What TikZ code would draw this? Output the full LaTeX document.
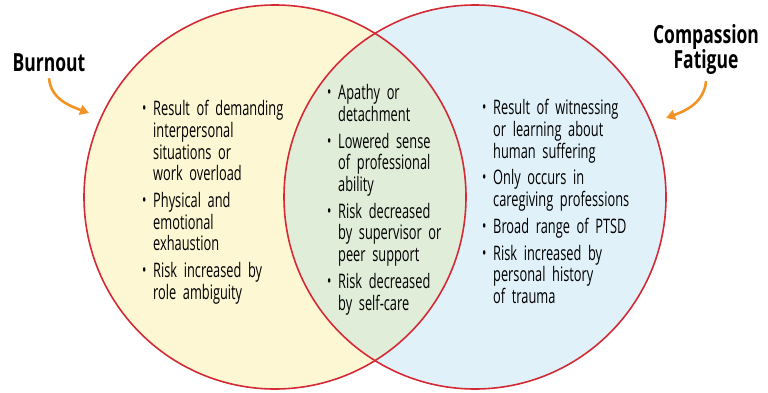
\documentclass[tikz,border=0pt]{standalone}
\usepackage{fontspec}
\setmainfont{Open Sans}[FakeStretch=0.64]
\newfontfamily\labelfont{Open Sans}[FakeStretch=0.7]
\usetikzlibrary{shapes.geometric, arrows.meta, positioning}

\definecolor{setred}{HTML}{D42A35}
\definecolor{burnfill}{HTML}{FEF7D4}
\definecolor{fatfill}{HTML}{E0F1FA}
\definecolor{lensfill}{HTML}{DFEDD9}
\definecolor{pointer}{HTML}{F39325}

% one bullet point, lines split with \\
\newcommand\bpoint[1]{\par\noindent\hbox to 11pt{\raisebox{1pt}{\fontsize{18}{18}\selectfont\textbullet}\hfil}%
  \begin{tabular}[t]{@{}l@{}}#1\end{tabular}}

\begin{document}
\begin{tikzpicture}[
  x=1pt, y=1pt,
  circ/.style={
    draw=setred,
    line width=1.6pt,
    ellipse,
    minimum width=382pt,
    minimum height=384pt
  },
  lbl/.style={
    font=\labelfont\fontsize{25}{25}\selectfont\bfseries,
    align=center,
    inner sep=0pt
  },
  txt/.style={
    font=\fontsize{20}{21.6}\selectfont\setlength\parskip{4pt},
    inner sep=0pt,
    anchor=north west
  },
  arrow/.style={
    -{Triangle[length=9pt,width=10pt]},
    draw=pointer,
    line width=2.6pt
  }
]
\useasboundingbox (0,0) rectangle (768,392);

% Fills
\fill[burnfill] (275,195) ellipse[x radius=191, y radius=192];
\fill[fatfill] (475,195) ellipse[x radius=191, y radius=192];
\begin{scope}
  \clip (275,195) ellipse[x radius=191, y radius=192];
  \fill[lensfill] (475,195) ellipse[x radius=191, y radius=192];
\end{scope}

% Sets
\node[circ] (burnset) at (275,195) {};
\node[circ] (fatset) at (475,195) {};

% Labels
\node[lbl] (burnout) at (49,329) {Burnout};
\node[lbl] (fatigue) at (706,342) {Compassion\\Fatigue};

% Points
\node[txt, text width=150pt] (burnpts) at (142,302) {%
  \bpoint{Result of demanding\\interpersonal\\situations or\\work overload}
  \bpoint{Physical and\\emotional\\exhaustion}
  \bpoint{Risk increased by\\role ambiguity}};
\node[txt, text width=120pt] (bothpts) at (327,318) {%
  \bpoint{Apathy or\\detachment}
  \bpoint{Lowered sense\\of professional\\ability}
  \bpoint{Risk decreased\\by supervisor or\\peer support}
  \bpoint{Risk decreased\\by self-care}};
\node[txt, text width=170pt] (fatpts) at (482,303) {%
  \bpoint{Result of witnessing\\or learning about\\human suffering}
  \bpoint{Only occurs in\\caregiving professions}
  \bpoint{Broad range of PTSD}
  \bpoint{Risk increased by\\personal history\\of trauma}};

% Pointers
\coordinate (burntip) at (89,279);
\coordinate (fattip) at (666,274);
\draw[arrow] ([yshift=-6pt]burnout.south) to[out=-85, in=160] (burntip);
\draw[arrow] ([yshift=-6pt]fatigue.south) to[out=-95, in=20] (fattip);

\end{tikzpicture}
\end{document}
